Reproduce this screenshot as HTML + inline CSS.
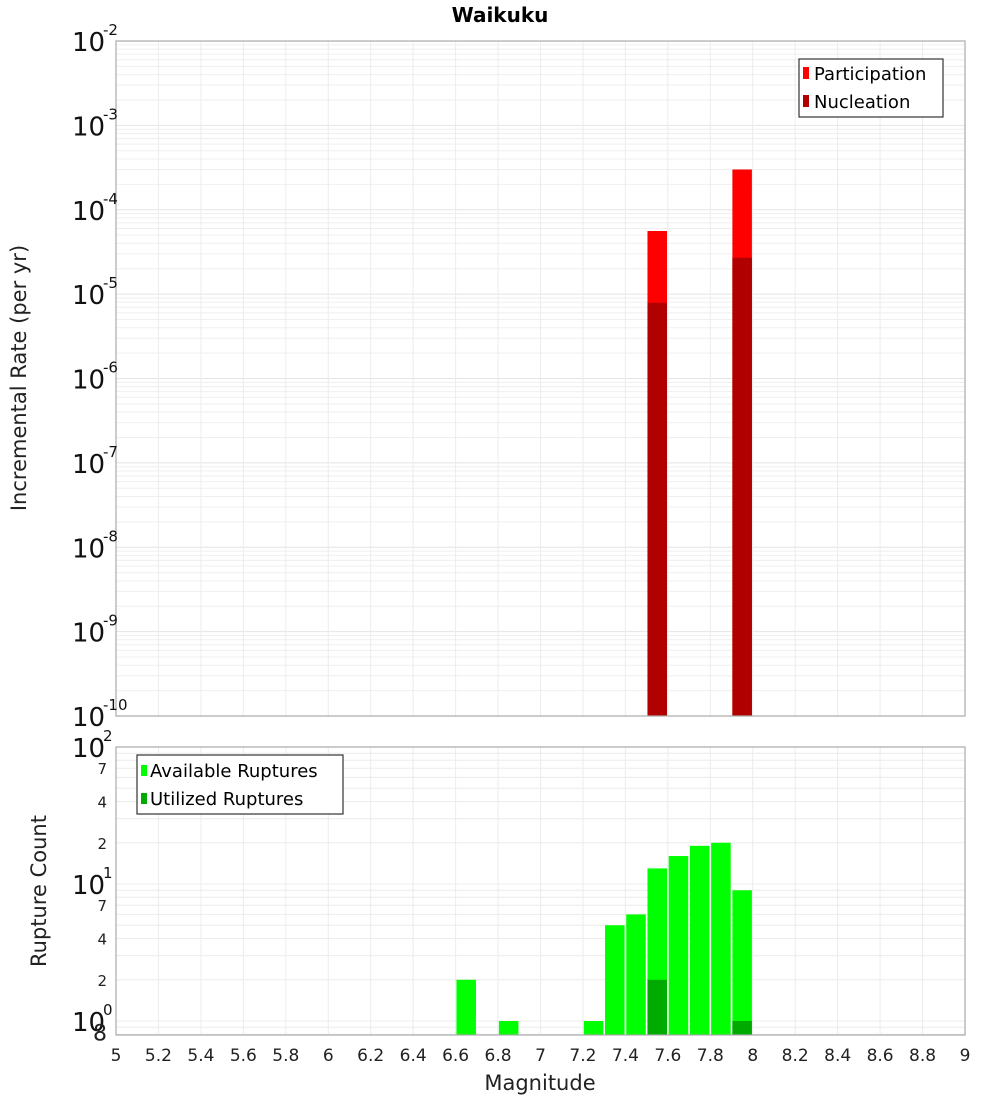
<!DOCTYPE html>
<html><head><meta charset="utf-8"><style>
html,body{margin:0;padding:0;background:#fff;}
svg{display:block;font-family:"DejaVu Sans","Liberation Sans",sans-serif;}
</style></head><body>
<svg id="chart" width="1000" height="1100" xmlns="http://www.w3.org/2000/svg">
<text x="500" y="22" text-anchor="middle" font-size="20" font-weight="bold">Waikuku</text>
<g id="topPlot"></g>
<g id="botPlot"></g>
<text transform="translate(26,378) rotate(-90)" text-anchor="middle" font-size="21" fill="#222">Incremental Rate (per yr)</text>
<text transform="translate(46,891) rotate(-90)" text-anchor="middle" font-size="21" fill="#222">Rupture Count</text>
<text x="540" y="1090" text-anchor="middle" font-size="21" fill="#222">Magnitude</text>
<g>
<rect x="799" y="59" width="144" height="58" fill="#fff" stroke="#333" stroke-width="1.2"/>
<rect x="803" y="67" width="6" height="12" fill="#ff0000"/>
<text x="814" y="80" font-size="18">Participation</text>
<rect x="803" y="95" width="6" height="12" fill="#b00000"/>
<text x="814" y="108" font-size="18">Nucleation</text>
</g>
<g>
<rect x="137" y="755" width="206" height="59" fill="#fff" stroke="#333" stroke-width="1.2"/>
<rect x="141" y="765" width="6" height="11" fill="#00ff00"/>
<text x="150" y="777" font-size="18">Available Ruptures</text>
<rect x="141" y="793" width="6" height="11" fill="#00aa00"/>
<text x="150" y="805" font-size="18">Utilized Ruptures</text>
</g>
</svg>
<script>
const xTicks = [5,5.2,5.4,5.6,5.8,6,6.2,6.4,6.6,6.8,7,7.2,7.4,7.6,7.8,8,8.2,8.4,8.6,8.8,9];
const rateMags = [7.55, 7.95];
const participation = [5.6e-5, 3.0e-4];
const nucleation = [7.9e-6, 2.7e-5];
const countMags = [6.65, 6.85, 7.25, 7.35, 7.45, 7.55, 7.65, 7.75, 7.85, 7.95];
const available = [2, 1, 1, 5, 6, 13, 16, 19, 20, 9];
const utilMags = [7.55, 7.95];
const utilized = [2, 1];
const rateExps = [-2,-3,-4,-5,-6,-7,-8,-9,-10];
const countExps = [2,1,0];
(function(){
const NS="http://www.w3.org/2000/svg";
const X0=116,X1=965;
const x=m=>X0+(m-5)/4*(X1-X0);
const T0=41,T1=716; const yTop=v=>T0+(-2-Math.log10(v))/8*(T1-T0);
const B0=747,B1=1035; const BD=137; const yBot=v=>B0+(2-Math.log10(v))*BD;
function mk(p,tag,a){const e=document.createElementNS(NS,tag);for(const k in a)e.setAttribute(k,a[k]);p.appendChild(e);return e;}
const gTop=document.getElementById('topPlot'),gBot=document.getElementById('botPlot');
for(let d=-10;d<-2;d++)for(let k=1;k<10;k++){const y=yTop(k*Math.pow(10,d));const l=mk(gTop,'line',{x1:X0,x2:X1,y1:y,y2:y,stroke:k==1?'#e4e4e4':'#efefef','stroke-width':1});

}
for(let d=-1;d<2;d++)for(let k=1;k<10;k++){const v=k*Math.pow(10,d);const y=yBot(v);if(y>B1||y<B0)continue;const l=mk(gBot,'line',{x1:X0,x2:X1,y1:y,y2:y,stroke:'#ececec','stroke-width':1});

}
xTicks.forEach(t=>{[[gTop,T0,T1],[gBot,B0,B1]].forEach(([g,a,b])=>{const l=mk(g,'line',{x1:x(t),x2:x(t),y1:a,y2:b,stroke:'#ececec','stroke-width':1});

});
const tx=mk(gBot,'text',{x:x(t),y:1061,'text-anchor':'middle','font-size':17,fill:'#222'});tx.textContent=String(t);

});
const bw=0.092;
rateMags.forEach((m,i)=>{
const r=mk(gTop,'rect',{x:x(m-bw/2),width:x(m+bw/2)-x(m-bw/2),y:yTop(participation[i]),height:T1-yTop(participation[i]),fill:'#ff0000'});


const n=mk(gTop,'rect',{x:x(m-bw/2),width:x(m+bw/2)-x(m-bw/2),y:yTop(nucleation[i]),height:T1-yTop(nucleation[i]),fill:'#b00000'});

});
countMags.forEach((m,i)=>{
const r=mk(gBot,'rect',{x:x(m-bw/2),width:x(m+bw/2)-x(m-bw/2),y:yBot(available[i]),height:B1-yBot(available[i]),fill:'#00ff00'});

});
utilMags.forEach((m,i)=>{
const r=mk(gBot,'rect',{x:x(m-bw/2),width:x(m+bw/2)-x(m-bw/2),y:yBot(utilized[i]),height:B1-yBot(utilized[i]),fill:'#00aa00'});

});
[[gTop,T0,T1],[gBot,B0,B1]].forEach(([g,a,b])=>{const f=mk(g,'rect',{x:X0,y:a,width:X1-X0,height:b-a,fill:'none',stroke:'#aaa','stroke-width':1.2});

});
function pow(g,y,e){const t=mk(g,'text',{x:72,y:y+10,'font-size':26,fill:'#111'});t.textContent='10';


const s=mk(g,'text',{x:103,y:y-6,'font-size':15,fill:'#111'});s.textContent=String(e);

}
rateExps.forEach(e=>pow(gTop,yTop(Math.pow(10,e)),e));
countExps.forEach(e=>pow(gBot,yBot(Math.pow(10,e)),e));
[7,4,2,0.7,0.4,0.2,0.08].forEach(v=>{const y=yBot(v*10);const t=mk(gBot,'text',{x:107,y:y+6,'text-anchor':'end','font-size':v==0.08?22:15,fill:'#222'});t.textContent=v==0.08?'8':String(Math.round(v>=1?v:v*10));

});
})();
</script>
</body></html>
